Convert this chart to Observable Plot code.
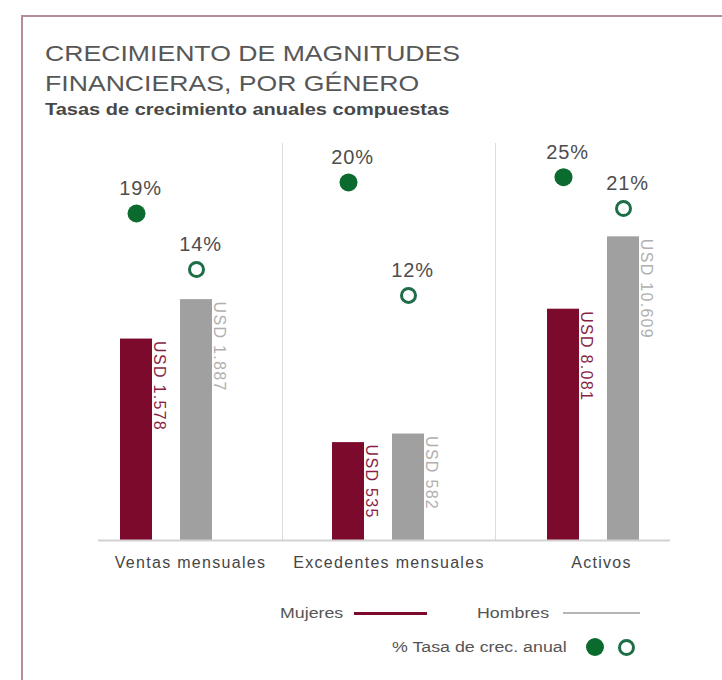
<!DOCTYPE html>
<html>
<head>
<meta charset="utf-8">
<script src="https://cdn.jsdelivr.net/npm/d3@7"></script>
<script src="https://cdn.jsdelivr.net/npm/@observablehq/plot@0.6"></script>
<style>
  html, body { margin: 0; padding: 0; background: #fff; }
  body { width: 722px; height: 680px; overflow: hidden; position: relative;
         font-family: "Liberation Sans", Arial, sans-serif; }
  #border { position: absolute; left: 21px; top: 15px; width: 780px; height: 780px;
            border: 2px solid #b68b9a; box-sizing: border-box; }
  .txt { position: absolute; white-space: nowrap; transform-origin: 0 0; }
  #title { left: 45px; top: 39px; font-size: 22px; line-height: 30px; color: #575757;
           transform: scaleX(1.21); }
  #subtitle { left: 45px; top: 100px; font-size: 16px; line-height: 20px; font-weight: bold;
              color: #484848; transform: scaleX(1.25); }
  #chart { position: absolute; left: 0; top: 130px; width: 722px; height: 460px; }
  #chart > svg { position: absolute; top: 0; }
  .sep { position: absolute; top: 143px; height: 397px; width: 1px; background: #dcdcdc; }
  .leg { position: absolute; font-size: 14px; line-height: 14px; color: #555;
         transform: scaleX(1.27); transform-origin: 0 0; white-space: nowrap; }
  .sw { position: absolute; }
</style>
</head>
<body>
<div id="border"></div>
<div id="title" class="txt">CRECIMIENTO DE MAGNITUDES<br>FINANCIERAS, POR GÉNERO</div>
<div id="subtitle" class="txt">Tasas de crecimiento anuales compuestas</div>
<div class="sep" style="left:282px"></div>
<div class="sep" style="left:495px"></div>
<div id="chart"></div>
<div id="legend"></div>
<script>
// ---- data ----
const groups = ["Ventas mensuales", "Excedentes mensuales", "Activos"];
const sexes = ["Mujeres", "Hombres"];
const mujeresUSD = [1578, 535, 8081];
const hombresUSD = [1887, 582, 10609];
const mujeresGrowth = [19, 20, 25];
const hombresGrowth = [14, 12, 21];
const legendSeriesLabel = "% Tasa de crec. anual";

// ---- per-panel independent scales (each group is drawn on its own scale) ----
const usdDomainMax = [3110, 2170, 13870];
const growthDomain = [[-10.2, 25.25], [-5.35, 22.76], [-21.4, 29.3]];

// ---- layout ----
const panels = [
  {left: 98,  width: 184, inL: 21, inR: 70, ruleR: 0},
  {left: 282, width: 213, inL: 49, inR: 71, ruleR: 0},
  {left: 495, width: 212, inL: 51, inR: 68, ruleR: 37}
];
const maroon = "#7b0a2c", grey = "#a0a0a0", green = "#0b6b2f", green2 = "#1d6e47";

const fmt = d3.formatLocale({decimal: ",", thousands: ".", grouping: [3], currency: ["USD ", ""]}).format("$,");

const chart = document.getElementById("chart");
const font = "font-family: 'Liberation Sans', Arial, sans-serif; overflow: visible; background: transparent;";

groups.forEach((group, g) => {
  const rows = sexes.map((sex, j) => ({
    group, sex,
    usd: (j ? hombresUSD : mujeresUSD)[g],
    growth: (j ? hombresGrowth : mujeresGrowth)[g]
  }));
  const P = panels[g];
  const common = {
    width: P.width, height: 460,
    marginLeft: 0, marginRight: 0, marginTop: 13, marginBottom: 50,
    x: {type: "band", domain: sexes, paddingInner: 0.475, paddingOuter: 0,
        insetLeft: P.inL, insetRight: P.inR, axis: null}
  };
  const bars = Plot.plot({
    ...common,
    style: font + " letter-spacing: 1.3px;",
    y: {domain: [0, usdDomainMax[g]], axis: null},
    color: {domain: sexes, range: [maroon, grey]},
    marks: [
      Plot.barY(rows, {x: "sex", y: "usd", fill: "sex"}),
      Plot.ruleY([0], {stroke: "#d2d2d2", strokeWidth: 2, insetRight: P.ruleR}),
      Plot.text(rows, {filter: d => d.sex === "Mujeres", x: "sex", y: "usd", text: d => fmt(d.usd),
        rotate: 90, textAnchor: "start", dx: 23, dy: 2, fontSize: 16, fill: "#8a1f45"}),
      Plot.text(rows, {filter: d => d.sex === "Hombres", x: "sex", y: "usd", text: d => fmt(d.usd),
        rotate: 90, textAnchor: "start", dx: 23, dy: 2, fontSize: 16, fill: "#b0b0b0"}),
      Plot.text([group], {frameAnchor: "bottom", text: d => d, dy: 27, fontSize: 16, fill: "#454545"})
    ]
  });
  bars.style.left = P.left + "px";
  chart.appendChild(bars);

  const dots = Plot.plot({
    ...common,
    style: font + " letter-spacing: 0.8px;",
    y: {domain: growthDomain[g], axis: null},
    marks: [
      Plot.dot(rows, {filter: d => d.sex === "Mujeres", x: "sex", y: "growth", r: 9, fill: green, stroke: "none"}),
      Plot.dot(rows, {filter: d => d.sex === "Hombres", x: "sex", y: "growth", r: 7, fill: "white", stroke: green2, strokeWidth: 3}),
      Plot.text(rows, {x: "sex", y: "growth", text: d => d.growth + "%", dy: -25, dx: 4, fontSize: 20, fill: "#4d4d4d"})
    ]
  });
  dots.style.left = P.left + "px";
  dots.style.pointerEvents = "none";
  chart.appendChild(dots);
});

// ---- legend ----
const legend = document.getElementById("legend");
legend.innerHTML = `
  <div class="leg" style="left:280px; top:606px">${sexes[0]}</div>
  <div class="sw" style="left:354px; top:612px; width:73px; height:3px; background:${maroon}"></div>
  <div class="leg" style="left:477px; top:606px">${sexes[1]}</div>
  <div class="sw" style="left:563px; top:612px; width:77px; height:2px; background:#b5b5b5"></div>
  <div class="leg" style="left:392px; top:640px">${legendSeriesLabel}</div>
  <div class="sw" style="left:586px; top:638px; width:18px; height:18px; border-radius:50%; background:${green}"></div>
  <div class="sw" style="left:618px; top:639px; width:11px; height:11px; border-radius:50%; background:#fff; border:3px solid ${green2}"></div>
`;
</script>
</body>
</html>
